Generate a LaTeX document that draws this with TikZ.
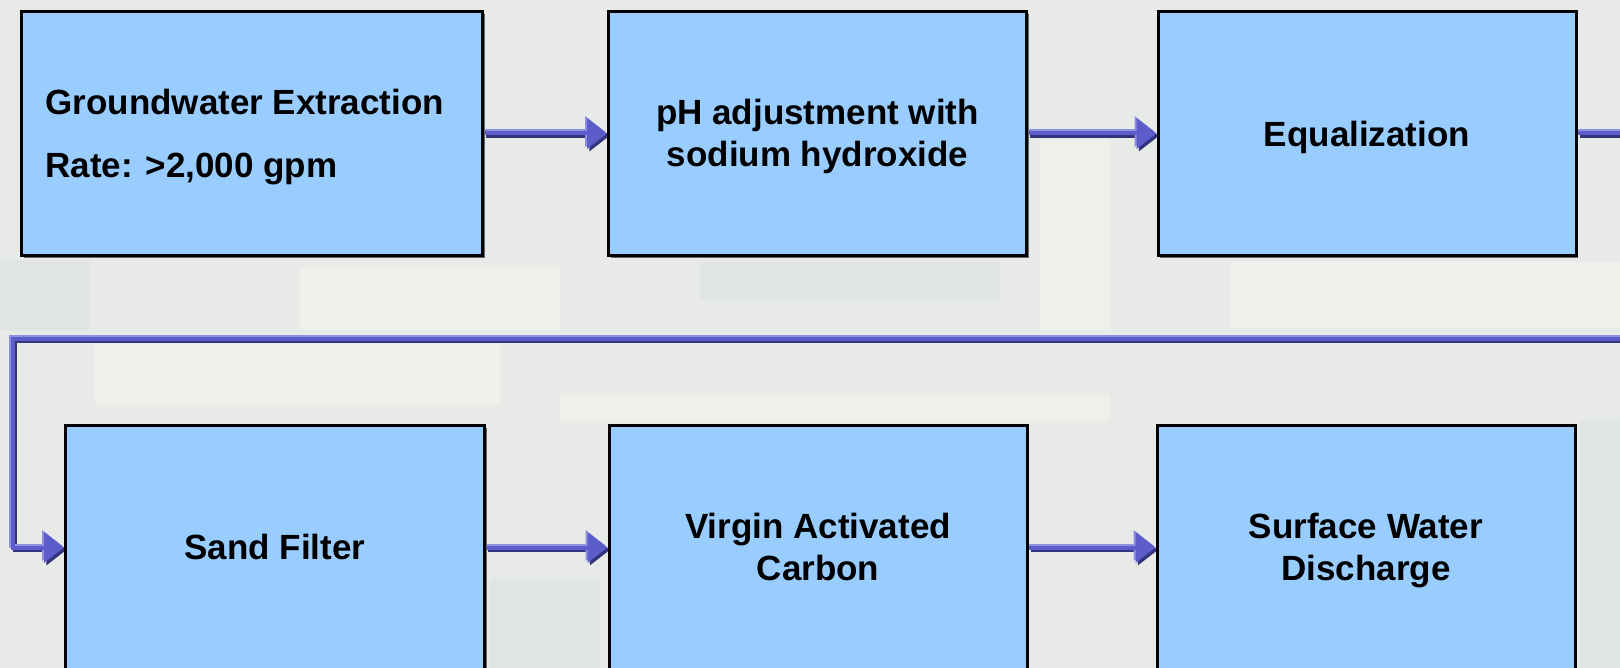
\documentclass[tikz,border=0pt]{standalone}
\usepackage{fontspec}
\setmainfont{Liberation Sans}
\usetikzlibrary{arrows.meta,shadows}
\definecolor{bgcol}{HTML}{E7EAE7}
\definecolor{bglight}{HTML}{EEF0EC}
\definecolor{bgdark}{HTML}{E1E5E1}
\definecolor{boxblue}{HTML}{99CCFF}
\definecolor{flowmain}{HTML}{5C5CCA}
\definecolor{flowlight}{HTML}{9090E2}
\definecolor{flowdark}{HTML}{34347E}
\pgfdeclarelayer{bgl}
\pgfdeclarelayer{connl}
\pgfsetlayers{bgl,connl,main}
\tikzset{
  procbox/.style={rectangle, draw=black, line width=1.5pt, fill=boxblue,
    inner sep=0pt, minimum height=122pt,
    drop shadow={shadow xshift=1.1pt, shadow yshift=-1.1pt, fill=black!60, opacity=1}},
  boxtext/.style={font=\fontsize{17.5pt}{21pt}\selectfont\bfseries, inner sep=0pt, anchor=base},
  flowbase/.style={line width=2pt, line join=miter, -{Triangle[length=10pt,width=15pt]}},
  flowD/.style={flowbase, draw=flowdark, transform canvas={xshift=1.2pt,yshift=-1.2pt}},
  flowL/.style={flowbase, draw=flowlight, transform canvas={xshift=-1pt,yshift=1pt}},
  flowM/.style={flowbase, draw=flowmain},
}
\newcommand\flowpath[1]{%
  \draw[flowD] #1;
  \draw[flowL] #1;
  \draw[flowM] #1;}
\begin{document}
\begin{tikzpicture}[x=0.5pt,y=-0.5pt]
\useasboundingbox (0,0) rectangle (1620,668);
\clip (0,0) rectangle (1620,668);
% background
\begin{pgfonlayer}{bgl}
\fill[bgcol] (0,0) rectangle (1620,668);
\fill[bglight] (95,335) rectangle (500,405);
\fill[bglight] (300,268) rectangle (560,330);
\fill[bglight] (1230,262) rectangle (1620,328);
\fill[bglight] (560,395) rectangle (1110,420);
\fill[bglight] (1040,140) rectangle (1110,330);
\fill[bgdark] (0,260) rectangle (90,330);
\fill[bgdark] (700,262) rectangle (1000,300);
\fill[bgdark] (1580,420) rectangle (1620,668);
\fill[bgdark] (490,580) rectangle (600,668);
\end{pgfonlayer}
% boxes
\node[procbox, minimum width=230.5pt] (b1) at (252,133.5) {};
\node[procbox, minimum width=209pt] (b2) at (817.5,133.5) {};
\node[procbox, minimum width=209pt] (b3) at (1367,133.5) {};
\node[procbox, minimum width=209.5pt] (b4) at (275,547.5) {};
\node[procbox, minimum width=209pt] (b5) at (818,547.5) {};
\node[procbox, minimum width=209pt] (b6) at (1366,547.5) {};
% texts
\node[boxtext, anchor=base west] (t1a) at (45,115) {Groundwater Extraction};
\node[boxtext, anchor=base west] (t1b) at (45,177) {Rate: >2,000 gpm};
\node[boxtext] (t2a) at (817.5,125) {pH adjustment with};
\node[boxtext] (t2b) at (817.5,167) {sodium hydroxide};
\node[boxtext] (t3) at (1367,147) {Equalization};
\node[boxtext] (t4) at (275,559) {Sand Filter};
\node[boxtext] (t5a) at (818,538) {Virgin Activated};
\node[boxtext] (t5b) at (818,580) {Carbon};
\node[boxtext] (t6a) at (1366,538) {Surface Water};
\node[boxtext] (t6b) at (1366,580) {Discharge};
% connector corner points
\coordinate (r1) at (1660,133.5);
\coordinate (r2) at (1660,339);
\coordinate (l1) at (13,339);
\coordinate (l2) at (13,547.5);
% connectors
\begin{pgfonlayer}{connl}
\flowpath{(b1.east) -- (b2.west)}
\flowpath{(b2.east) -- (b3.west)}
\flowpath{(b3.east) -- (r1) -- (r2) -- (l1) -- (l2) -- (b4.west)}
\flowpath{(b4.east) -- (b5.west)}
\flowpath{(b5.east) -- (b6.west)}
\end{pgfonlayer}
\end{tikzpicture}
\end{document}
